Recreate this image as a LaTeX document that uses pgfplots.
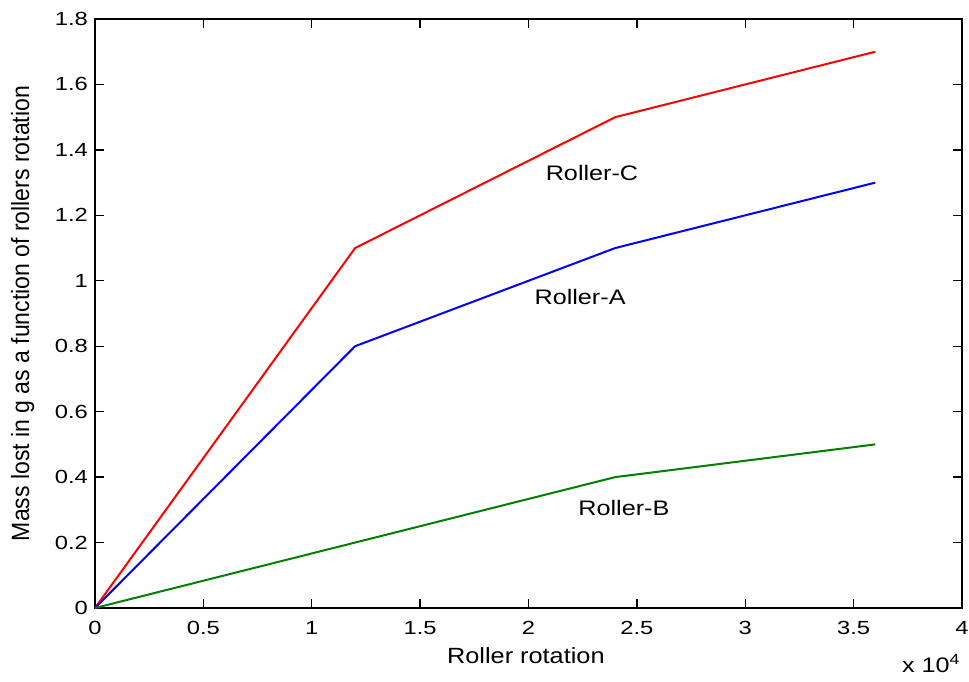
\documentclass[border=0pt]{standalone}
\usepackage{fontspec}
\setmainfont{Liberation Sans}
\newfontfamily\tickfont{Liberation Sans}[FakeStretch=1.25]
\newfontfamily\xlabfont{Liberation Sans}[FakeStretch=1.15]
\newfontfamily\rollfont{Liberation Sans}[FakeStretch=1.2]
\newfontfamily\ylabfont{Liberation Sans}[FakeStretch=0.92]
\usepackage{pgfplots}
\pgfplotsset{compat=1.18}
\definecolor{mgreen}{RGB}{0,128,0}
\begin{document}
\begin{tikzpicture}
\useasboundingbox (0,0) rectangle (484.5pt,340.5pt);
\begin{axis}[
  at={(47.5pt,36.5pt)}, anchor=south west,
  width=433.5pt, height=294.5pt, scale only axis,
  xmin=0, xmax=40000, ymin=0, ymax=1.8,
  xtick={0,5000,10000,15000,20000,25000,30000,35000,40000},
  xticklabels={0,0.5,1,1.5,2,2.5,3,3.5,4},
  scaled x ticks=false,
  ytick={0,0.2,0.4,0.6,0.8,1,1.2,1.4,1.6,1.8},
  yticklabels={0,0.2,0.4,0.6,0.8,1,1.2,1.4,1.6,1.8},
  tick align=inside, major tick length=4.5pt,
  axis line style={line width=0.65pt},
  every tick/.style={black, line width=0.65pt},
  tick label style={font=\tickfont\fontsize{9.5}{11}\selectfont},
  /pgf/number format/assume math mode=true,
  xticklabel style={anchor=base, yshift=-13pt},
  xlabel={Roller rotation},
  ylabel={Mass lost in g as a function of rollers rotation},
  every axis x label/.style={at={(rel axis cs:0.497,-0.0934)}, anchor=base, font=\xlabfont\fontsize{11}{13}\selectfont},
  every axis y label/.style={at={(rel axis cs:-0.0761,0.5)}, rotate=90, anchor=base, font=\ylabfont\fontsize{12.5}{14}\selectfont},
  clip=false,
]
\addplot[red, line width=1pt] coordinates {(0,0) (12000,1.1) (24000,1.5) (36000,1.7)};
\addplot[blue, line width=1pt] coordinates {(0,0) (12000,0.8) (24000,1.1) (36000,1.3)};
\addplot[mgreen, line width=1pt] coordinates {(0,0) (12000,0.2) (24000,0.4) (36000,0.5)};
\node[font=\rollfont\fontsize{10.5}{12}\selectfont] at (axis cs:22930,1.329) {Roller-C};
\node[font=\rollfont\fontsize{10.5}{12}\selectfont] at (axis cs:22380,0.95) {Roller-A};
\node[font=\rollfont\fontsize{10.5}{12}\selectfont] at (axis cs:24400,0.306) {Roller-B};
\node[font=\rollfont\fontsize{10.5}{12}\selectfont, anchor=base east, inner sep=0pt] at ([yshift=-32pt]rel axis cs:0.9988,0) {x 10\textsuperscript{4}};
\end{axis}
\end{tikzpicture}
\end{document}
